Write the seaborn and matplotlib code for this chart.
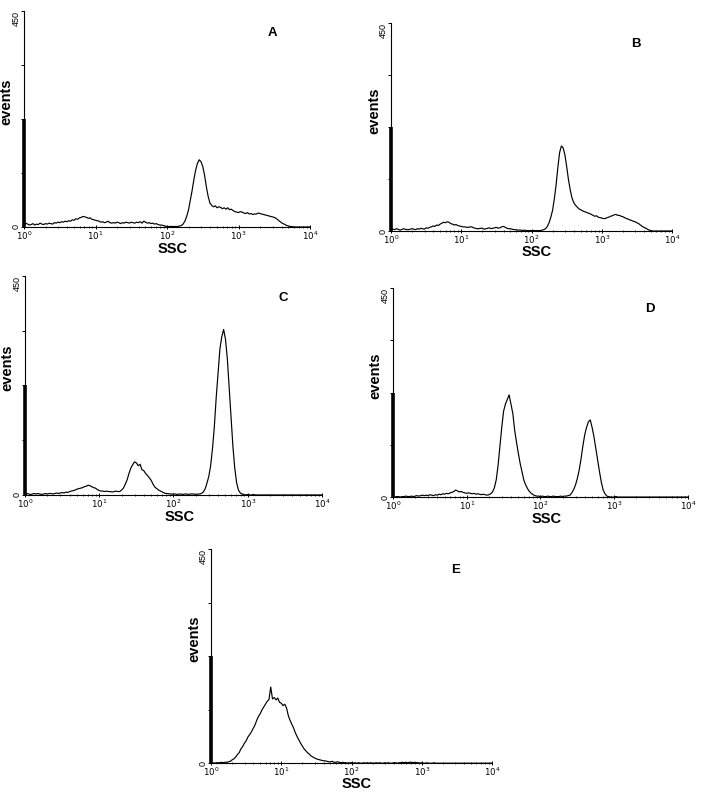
import numpy as np
import pandas as pd
import matplotlib
matplotlib.use('Agg')
import matplotlib.pyplot as plt
import seaborn as sns
from matplotlib.ticker import LogLocator, NullFormatter

# SSC channels in decades, 0.025 decade per bin (10^0 .. 10^4)
ssc_decades = np.arange(161) * 0.025

counts_A = [5, 8, 6, 4, 5, 7, 4, 6, 5, 8, 6, 5, 7, 6, 8, 7, 6, 9, 8, 10,
            9, 11, 10, 12, 11, 13, 12, 15, 14, 17, 16, 19, 20, 22, 21, 20, 18, 19, 16, 15,
            14, 13, 12, 10, 11, 9, 10, 12, 9, 8, 9, 8, 10, 9, 7, 9, 8, 10, 9, 8,
            10, 9, 8, 10, 9, 11, 8, 12, 10, 8, 9, 7, 8, 6, 7, 5, 4, 4, 3, 2,
            1, 1, 1, 1, 1, 1, 1, 2, 3, 6, 12, 22, 35, 55, 75, 98, 118, 132, 140, 136,
            126, 108, 84, 64, 50, 45, 42, 44, 40, 42, 41, 38, 40, 37, 40, 36, 37, 34, 32, 31,
            30, 32, 31, 29, 28, 30, 27, 28, 26, 27, 27, 29, 28, 27, 26, 25, 24, 23, 22, 21,
            20, 18, 15, 12, 9, 7, 5, 3, 2, 1, 1, 0, 0, 0, 0, 0, 0, 0, 0, 0,
            0]
counts_B = [3, 4, 3, 5, 4, 2, 3, 5, 4, 3, 3, 4, 5, 4, 3, 5, 4, 6, 5, 4,
            7, 6, 8, 9, 11, 10, 13, 12, 15, 17, 19, 18, 20, 19, 16, 15, 13, 14, 12, 11,
            10, 9, 9, 8, 8, 9, 9, 7, 6, 5, 5, 6, 6, 4, 5, 6, 7, 5, 6, 7,
            8, 6, 7, 9, 10, 8, 6, 5, 5, 4, 3, 3, 2, 2, 2, 1, 2, 1, 1, 1,
            1, 1, 1, 1, 1, 1, 2, 3, 5, 10, 18, 30, 45, 70, 100, 138, 170, 184, 180, 165,
            140, 112, 90, 72, 62, 56, 52, 48, 46, 44, 42, 41, 39, 38, 36, 34, 32, 33, 30, 29,
            28, 27, 27, 29, 30, 32, 33, 35, 36, 34, 34, 32, 31, 29, 27, 26, 24, 23, 21, 20,
            18, 16, 13, 10, 8, 6, 4, 2, 1, 0, 0, 0, 0, 0, 0, 0, 0, 0, 0, 0,
            0]
counts_C = [2, 3, 2, 1, 2, 3, 2, 3, 2, 1, 2, 3, 2, 3, 3, 2, 3, 4, 3, 4,
            5, 4, 6, 5, 7, 8, 9, 10, 12, 13, 14, 15, 17, 18, 20, 19, 17, 15, 14, 11,
            9, 8, 8, 7, 8, 7, 7, 6, 7, 8, 7, 7, 10, 14, 22, 31, 44, 55, 62, 68,
            66, 60, 63, 52, 50, 44, 40, 35, 30, 22, 16, 13, 10, 8, 6, 4, 3, 3, 2, 2,
            2, 2, 1, 2, 2, 1, 2, 2, 1, 2, 2, 2, 1, 2, 2, 3, 6, 12, 24, 38,
            60, 95, 140, 200, 250, 300, 325, 340, 320, 280, 220, 160, 100, 55, 25, 10, 4, 2, 1, 0,
            1, 0, 0, 1, 0, 0, 0, 0, 0, 0, 0, 0, 0, 0, 0, 0, 0, 0, 0, 0,
            0, 0, 0, 0, 0, 0, 0, 0, 0, 0, 0, 0, 0, 0, 0, 0, 0, 0, 0, 0,
            0]
counts_D = [1, 0, 1, 1, 0, 1, 1, 2, 1, 1, 2, 1, 2, 3, 2, 3, 4, 3, 4, 3,
            5, 4, 3, 5, 4, 6, 5, 7, 6, 8, 7, 9, 10, 12, 15, 13, 11, 12, 10, 9,
            8, 9, 8, 7, 8, 6, 7, 6, 5, 6, 5, 4, 5, 7, 11, 20, 37, 68, 108, 150,
            185, 200, 210, 220, 200, 180, 144, 118, 94, 72, 54, 36, 26, 18, 12, 8, 5, 3, 2, 2,
            1, 2, 1, 1, 2, 1, 1, 2, 1, 1, 1, 2, 1, 2, 2, 3, 4, 9, 16, 26,
            40, 58, 82, 110, 134, 150, 162, 166, 150, 130, 105, 80, 55, 32, 15, 7, 2, 1, 0, 0,
            0, 1, 0, 0, 0, 0, 0, 0, 0, 0, 0, 0, 0, 0, 0, 0, 0, 0, 0, 0,
            0, 0, 0, 0, 0, 0, 0, 0, 0, 0, 0, 0, 0, 0, 0, 0, 0, 0, 0, 0,
            0]
counts_E = [1, 1, 0, 1, 1, 1, 2, 1, 2, 2, 3, 4, 7, 9, 13, 18, 22, 30, 35, 42,
            47, 55, 60, 66, 73, 80, 90, 98, 104, 112, 118, 124, 130, 134, 160, 135, 138, 133, 137, 128,
            126, 121, 124, 116, 100, 90, 82, 74, 64, 56, 49, 42, 36, 30, 26, 22, 19, 15, 13, 11,
            9, 8, 7, 6, 5, 5, 4, 3, 3, 4, 2, 2, 3, 2, 1, 2, 1, 1, 0, 1,
            1, 0, 1, 0, 1, 0, 0, 1, 0, 1, 0, 1, 0, 0, 1, 0, 1, 0, 0, 1,
            0, 1, 0, 0, 1, 1, 0, 1, 1, 2, 1, 2, 1, 2, 2, 1, 2, 1, 1, 0,
            1, 0, 0, 1, 0, 0, 0, 1, 0, 0, 0, 0, 0, 0, 0, 0, 0, 0, 0, 0,
            0, 0, 0, 0, 0, 0, 0, 0, 0, 0, 0, 0, 0, 0, 0, 0, 0, 0, 0, 0,
            0]

panel_names = ['A', 'B', 'C', 'D', 'E']
panel_counts = [counts_A, counts_B, counts_C, counts_D, counts_E]

x_ticks = [1, 10, 100, 1000, 10000]
x_tick_labels = [r'$10^{0}$', r'$10^{1}$', r'$10^{2}$', r'$10^{3}$', r'$10^{4}$']
y_ticks = [0, 112.5, 225, 337.5, 450]
y_tick_labels = ['0', '', '', '', '450']

# axes boxes in figure fraction [left, bottom, width, height]
boxes = {
    'A': [0.0342, 0.7145, 0.4074, 0.2717],
    'B': [0.5570, 0.7094, 0.4003, 0.2616],
    'C': [0.0356, 0.3774, 0.4231, 0.2755],
    'D': [0.5598, 0.3748, 0.4202, 0.2629],
    'E': [0.3006, 0.0400, 0.4003, 0.2694],
}
# gap between x axis and top of the "SSC" label, in pixels
ssc_gap = {'A': 15, 'B': 14, 'C': 15, 'D': 15, 'E': 14}

sns.set_style('white')
plt.rcParams['font.family'] = ['Liberation Sans', 'DejaVu Sans']
plt.rcParams['mathtext.fontset'] = 'dejavusans'
plt.rcParams['text.color'] = 'black'
plt.rcParams['axes.labelcolor'] = 'black'

fig = plt.figure(figsize=(7.02, 7.95), dpi=100)

for name, counts in zip(panel_names, panel_counts):
    assert len(counts) == len(ssc_decades), name
    df = pd.DataFrame({'ssc': 10 ** ssc_decades, 'events': counts})

    ax = fig.add_axes(boxes[name])
    ax.set_xscale('log')
    sns.lineplot(data=df, x='ssc', y='events', ax=ax, color='black',
                 lw=0.85, estimator=None, sort=False)

    ax.set_xlim(1, 10000)
    ax.set_ylim(0, 450)

    for side in ['top', 'right']:
        ax.spines[side].set_visible(False)
    for side in ['left', 'bottom']:
        ax.spines[side].set_color('black')
        ax.spines[side].set_linewidth(0.8)

    # thick marker on lower half of the y axis
    ax.axvline(1, ymin=0, ymax=0.5, color='black', lw=2.6,
               solid_capstyle='butt', clip_on=False)

    ax.set_xticks(x_ticks)
    ax.set_xticklabels(x_tick_labels)
    ax.xaxis.set_minor_locator(LogLocator(base=10, subs=np.arange(2, 10)))
    ax.xaxis.set_minor_formatter(NullFormatter())
    ax.set_yticks(y_ticks)
    ylabels = ax.set_yticklabels(y_tick_labels, rotation=90, va='center')
    ylabels[-1].set_va('top')

    ax.tick_params(axis='x', which='major', direction='inout', length=3, width=0.7,
                   pad=0.5, labelsize=6.2, colors='black', bottom=True)
    ax.tick_params(axis='x', which='minor', direction='inout', length=2, width=0.6,
                   bottom=True)
    ax.tick_params(axis='y', which='major', direction='out', length=2, width=0.7,
                   pad=0.5, labelsize=6.5, colors='black', left=True)

    ax.set_xlabel('SSC', fontsize=10.5, fontweight='bold')
    ax.set_ylabel('events', fontsize=10.5, fontweight='bold')
    ax_h = boxes[name][3] * 795
    ax.xaxis.set_label_coords(0.52, -ssc_gap[name] / ax_h)
    ax.yaxis.set_label_coords(-0.036, 0.58)

    ax.text(0.87, 0.90, name, transform=ax.transAxes, fontsize=9.5,
            fontweight='bold', ha='center', va='center')

fig.savefig('out.png', dpi=100)
